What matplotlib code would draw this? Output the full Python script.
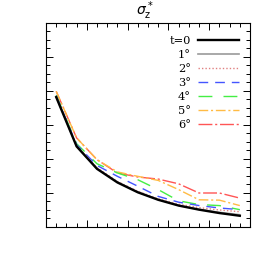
import matplotlib
matplotlib.use('Agg')
import matplotlib.pyplot as plt
from matplotlib.ticker import MultipleLocator

## data
t = [1, 3, 5, 7, 9, 11, 13, 15, 17, 19]
labels = ['t=0', '1°', '2°', '3°', '4°', '5°', '6°']
s0 = [3.82, 2.37, 1.71, 1.31, 1.02, 0.80, 0.63, 0.51, 0.41, 0.33]
s1 = [3.83, 2.38, 1.72, 1.32, 1.03, 0.81, 0.64, 0.52, 0.43, 0.36]
s2 = [3.84, 2.39, 1.74, 1.34, 1.05, 0.83, 0.67, 0.57, 0.50, 0.45]
s3 = [3.86, 2.42, 1.81, 1.49, 1.20, 0.90, 0.73, 0.63, 0.56, 0.51]
s4 = [3.88, 2.45, 1.86, 1.59, 1.39, 1.10, 0.77, 0.66, 0.63, 0.51]
s5 = [3.99, 2.62, 1.98, 1.62, 1.49, 1.37, 1.10, 0.80, 0.79, 0.63]
s6 = [3.99, 2.62, 1.98, 1.59, 1.47, 1.41, 1.27, 1.00, 1.00, 0.85]
series = [s0, s1, s2, s3, s4, s5, s6]

colors = ['black', '#999999', '#e08080', '#4455ff', '#44ee44', '#ffbb44', '#ff5555']
styles = ['-', '-', (0, (1, 1.5)), (0, (7, 5)), (0, (10, 8)), (0, (7, 2, 1.5, 2)), (0, (10, 2, 1.5, 2))]
widths = [1.7, 1.2, 1.0, 1.0, 1.0, 1.0, 1.0]

fig = plt.figure(figsize=(2.73, 2.73), dpi=100)
ax = fig.add_axes([0.1685, 0.1685, 0.7473, 0.7473])
for i in range(len(series)-1, -1, -1):
    ax.plot(t, series[i], color=colors[i], ls=styles[i], lw=widths[i], label=labels[i])

ax.set_xlim(0, 20)
ax.set_ylim(0, 6)
ax.xaxis.set_major_locator(MultipleLocator(4))
ax.xaxis.set_minor_locator(MultipleLocator(1))
ax.yaxis.set_major_locator(MultipleLocator(1))
ax.yaxis.set_minor_locator(MultipleLocator(0.25))
ax.tick_params(which='both', direction='in', top=True, right=True,
               labelbottom=False, labelleft=False, width=0.7)
ax.tick_params(which='major', length=5)
ax.tick_params(which='minor', length=2.8)
for sp in ax.spines.values():
    sp.set_linewidth(0.8)

h, l = ax.get_legend_handles_labels()
ax.legend(h[::-1], l[::-1], loc='upper right', bbox_to_anchor=(0.995, 0.985),
          frameon=False, markerfirst=False, handlelength=3.6, handletextpad=0.6,
          labelspacing=0.34, prop={'family': 'DejaVu Serif', 'size': 8.2})

fig.text(0.53, 0.96, r'$\sigma^*_{\rm z}$', ha='center', va='center', fontsize=10)

fig.savefig('out.png', dpi=100)
